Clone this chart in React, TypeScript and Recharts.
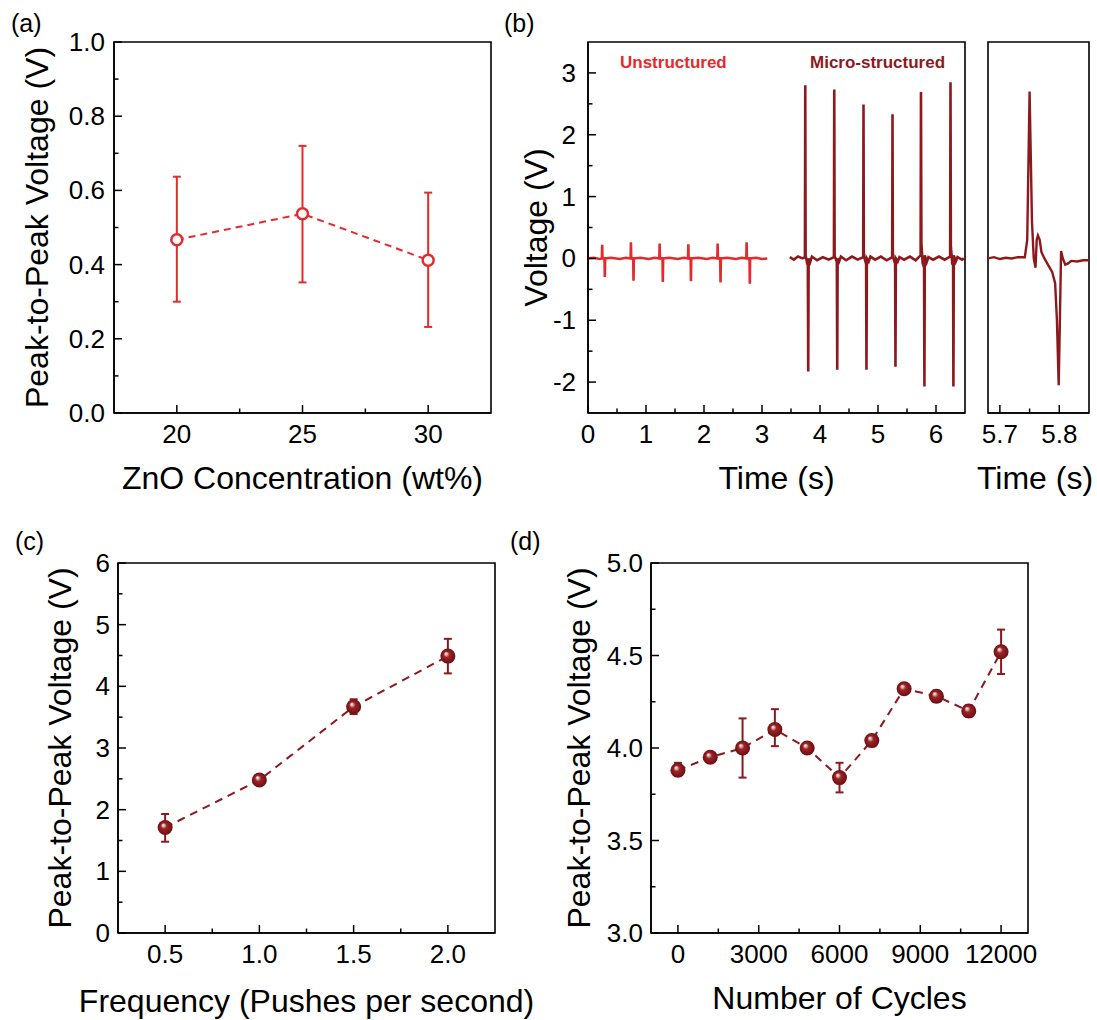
import { LineChart, Line, XAxis, YAxis, ErrorBar, ReferenceArea } from 'recharts';

const RED = '#e42a2d';
const DARK = '#8c1a1d';
const FONT = '"Liberation Sans", Arial, Helvetica, sans-serif';
const AXIS = { stroke: '#000', strokeWidth: 1.6 };

// (a) ZnO concentration
const znoConc = [20, 25, 30];
const znoVpp = [0.467, 0.537, 0.412];
const znoLow = [0.3, 0.352, 0.232];
const znoHigh = [0.637, 0.72, 0.594];

// (c) push frequency
const freq = [0.5, 1.0, 1.5, 2.0];
const freqVpp = [1.71, 2.48, 3.67, 4.49];
const freqLow = [1.48, 2.43, 3.55, 4.21];
const freqHigh = [1.93, 2.53, 3.79, 4.77];

// (d) cycling
const cycles = [0, 1200, 2400, 3600, 4800, 6000, 7200, 8400, 9600, 10800, 12000];
const cycleVpp = [3.88, 3.95, 4.0, 4.1, 4.0, 3.84, 4.04, 4.32, 4.28, 4.2, 4.52];
const cycleLow = [3.85, 3.93, 3.84, 4.01, 3.98, 3.76, 4.02, 4.3, 4.25, 4.17, 4.4];
const cycleHigh = [3.92, 3.97, 4.16, 4.21, 4.02, 3.92, 4.06, 4.34, 4.31, 4.23, 4.64];

// (b) voltage traces, [time s, voltage V]
const unstructuredTrace: [number, number][] = [
  [0.0, 0.0], [0.1, 0.01], [0.2, -0.01], [0.24, 0.0], [0.245, 0.22], [0.25, 0.0], [0.285, 0.0], [0.29, -0.3], [0.295, 0.0],
  [0.4, 0.01], [0.55, -0.01], [0.65, 0.01], [0.735, 0.0], [0.74, 0.26], [0.745, 0.0], [0.78, 0.0], [0.785, -0.36], [0.79, 0.0],
  [0.9, 0.01], [1.05, -0.01], [1.15, 0.01], [1.23, 0.0], [1.235, 0.24], [1.24, 0.0], [1.285, 0.0], [1.29, -0.38], [1.295, 0.0],
  [1.4, 0.01], [1.55, -0.01], [1.65, 0.01], [1.725, 0.0], [1.73, 0.23], [1.735, 0.0], [1.77, 0.0], [1.775, -0.37], [1.78, 0.0],
  [1.9, 0.01], [2.05, -0.01], [2.15, 0.01], [2.23, 0.0], [2.235, 0.24], [2.24, 0.0], [2.28, 0.0], [2.285, -0.39], [2.29, 0.0],
  [2.4, 0.01], [2.55, -0.01], [2.65, 0.01], [2.73, 0.0], [2.735, 0.26], [2.74, 0.0], [2.785, 0.0], [2.79, -0.41], [2.795, 0.0],
  [2.9, 0.01], [3.0, -0.01], [3.09, 0.0],
];

const microTrace: [number, number][] = [
  [3.48, 0.02], [3.55, -0.02], [3.62, 0.03], [3.7, 0.0], [3.74, 0.02], [3.746, 2.8], [3.752, 0.05], [3.77, -0.04], [3.79, 0.0],
  [3.797, -1.83], [3.804, 0.0], [3.83, -0.06], [3.86, 0.03], [3.95, -0.03], [4.05, 0.02], [4.15, -0.02],
  [4.24, 0.02], [4.246, 2.73], [4.252, 0.04], [4.28, -0.03], [4.29, 0.0], [4.297, -1.8], [4.304, 0.0], [4.33, -0.05], [4.36, 0.03],
  [4.45, -0.03], [4.55, 0.03], [4.65, -0.02],
  [4.745, 0.02], [4.75, 2.49], [4.756, 0.04], [4.78, -0.04], [4.795, 0.0], [4.801, -1.8], [4.808, 0.0], [4.84, -0.05], [4.87, 0.03],
  [4.95, -0.02], [5.05, 0.03], [5.15, -0.03],
  [5.245, 0.02], [5.25, 2.33], [5.256, 0.03], [5.28, -0.04], [5.295, 0.0], [5.301, -1.75], [5.308, 0.0], [5.34, -0.05], [5.37, 0.02],
  [5.45, -0.02], [5.55, 0.03], [5.65, -0.03],
  [5.735, 0.05], [5.741, 2.69], [5.748, 0.25], [5.77, -0.08], [5.795, -0.15], [5.8, -2.07], [5.807, 0.05], [5.84, -0.06], [5.87, 0.02],
  [5.95, -0.02], [6.05, 0.03], [6.15, -0.02],
  [6.244, 0.03], [6.25, 2.85], [6.256, 0.2], [6.28, -0.08], [6.295, -0.08], [6.3, -2.07], [6.307, 0.05], [6.34, -0.05], [6.37, 0.02],
  [6.45, -0.02], [6.48, 0.0],
];

const zoomTrace: [number, number][] = [
  [5.68, 0.0], [5.69, 0.02], [5.7, -0.01], [5.71, 0.01], [5.72, 0.0], [5.73, 0.02], [5.742, 0.02], [5.746, 0.3], [5.75, 2.7],
  [5.754, 0.6], [5.757, 0.0], [5.76, -0.15], [5.762, 0.3], [5.764, 0.37], [5.767, 0.3], [5.77, 0.1], [5.775, 0.0], [5.782, -0.12],
  [5.788, -0.22], [5.793, -0.4], [5.796, -1.0], [5.799, -2.05], [5.801, -1.0], [5.803, 0.12], [5.806, 0.0], [5.81, -0.1],
  [5.815, -0.08], [5.82, -0.04], [5.83, -0.05], [5.84, -0.03], [5.852, -0.03],
];

// ticks
const aXMajor = [20, 25, 30];
const aXMinor = [22.5, 27.5];
const aYMajor = [0, 0.2, 0.4, 0.6, 0.8, 1.0];
const aYMinor = [0.1, 0.3, 0.5, 0.7, 0.9];
const bXMajor = [0, 1, 2, 3, 4, 5, 6];
const bXMinor = [0.5, 1.5, 2.5, 3.5, 4.5, 5.5];
const bYMajor = [-2, -1, 0, 1, 2, 3];
const bYMinor = [-1.5, -0.5, 0.5, 1.5, 2.5];
const zXMajor = [5.7, 5.8];
const zXMinor = [5.75];
const cXMajor = [0.5, 1.0, 1.5, 2.0];
const cXMinor = [0.75, 1.25, 1.75];
const cYMajor = [0, 1, 2, 3, 4, 5, 6];
const cYMinor = [0.5, 1.5, 2.5, 3.5, 4.5, 5.5];
const dXMajor = [0, 3000, 6000, 9000, 12000];
const dXMinor = [1500, 4500, 7500, 10500];
const dYMajor = [3.0, 3.5, 4.0, 4.5, 5.0];
const dYMinor = [3.25, 3.75, 4.25, 4.75];

const buildRows = (xs: number[], v: number[], lo: number[], hi: number[]) =>
  xs.map((x, i) => ({ x, v: v[i], err: [v[i] - lo[i], hi[i] - v[i]] }));
const toPoints = (tr: [number, number][]) => tr.map(([t, v]) => ({ t, v }));

const znoRows = buildRows(znoConc, znoVpp, znoLow, znoHigh);
const freqRows = buildRows(freq, freqVpp, freqLow, freqHigh);
const cycleRows = buildRows(cycles, cycleVpp, cycleLow, cycleHigh);

const isIn = (arr: number[], v: number) => arr.some((m) => Math.abs(m - v) < 1e-9);

const yTick = (major: number[], fmt: ((v: number) => string) | null, gap: number) => (p: any) => {
  const { x, y, payload } = p;
  const big = isIn(major, payload.value);
  return (
    <g>
      <line x1={x} y1={y} x2={x + (big ? 8 : 4.5)} y2={y} stroke="#000" strokeWidth={1.5} />
      {fmt && big && (
        <text x={x - gap} y={y} textAnchor="end" dominantBaseline="central" fontSize={26} fontFamily={FONT} fill="#000">
          {fmt(payload.value)}
        </text>
      )}
    </g>
  );
};

const xTick = (major: number[], fmt: (v: number) => string) => (p: any) => {
  const { x, y, payload } = p;
  const big = isIn(major, payload.value);
  return (
    <g>
      <line x1={x} y1={y} x2={x} y2={y - (big ? 8 : 4.5)} stroke="#000" strokeWidth={1.5} />
      {big && (
        <text x={x} y={y + 21} textAnchor="middle" dominantBaseline="central" fontSize={26} fontFamily={FONT} fill="#000">
          {fmt(payload.value)}
        </text>
      )}
    </g>
  );
};

const yTitle = (text: string, cx: number) => (p: any) => {
  const vb = p.viewBox || { y: 0, height: 0 };
  const cy = vb.y + vb.height / 2;
  return (
    <text x={cx} y={cy} transform={`rotate(-90 ${cx} ${cy})`} textAnchor="middle" dominantBaseline="central" fontSize={32} fontFamily={FONT} fill="#000">
      {text}
    </text>
  );
};

const xTitle = (text: string, dy: number, cx?: number) => (p: any) => {
  const vb = p.viewBox || { x: 0, y: 0, width: 0 };
  const x = cx ?? vb.x + vb.width / 2;
  return (
    <text x={x} y={vb.y + dy} textAnchor="middle" dominantBaseline="central" fontSize={32} fontFamily={FONT} fill="#000">
      {text}
    </text>
  );
};

const OpenDot = (p: any) => (
  <circle key={`o${p.index}`} cx={p.cx} cy={p.cy} r={5.5} fill="#fff" stroke={RED} strokeWidth={2.5} />
);
const SphereDot = (p: any) => (
  <circle key={`s${p.index}`} cx={p.cx} cy={p.cy} r={7.5} fill="url(#sphereFill)" />
);

const fmt1 = (v: number) => v.toFixed(1);
const fmt0 = (v: number) => String(v);

const tickAxis = { tickLine: false, tickSize: 0, tickMargin: 0, interval: 0 as const, axisLine: AXIS, allowDataOverflow: true };

const PanelLabel = ({ text, left, top }: { text: string; left: number; top: number }) => (
  <div style={{ position: 'absolute', left, top, fontSize: 25, lineHeight: '28px', fontFamily: FONT, color: '#000' }}>{text}</div>
);

export default function App() {
  return (
    <div style={{ position: 'absolute', left: 0, top: 0, width: 1097, height: 1020, background: '#fff', overflow: 'hidden', fontFamily: FONT }}>
      <svg width={0} height={0} style={{ position: 'absolute' }}>
        <defs>
          <radialGradient id="sphereFill" cx="0.5" cy="0.5" r="0.5" fx="0.36" fy="0.32">
            <stop offset="0%" stopColor="#ffffff" />
            <stop offset="16%" stopColor="#e6b3b3" />
            <stop offset="40%" stopColor="#9c2326" />
            <stop offset="100%" stopColor="#6a1013" />
          </radialGradient>
        </defs>
      </svg>

      {/* (a) */}
      <div style={{ position: 'absolute', left: 0, top: 0 }}>
        <LineChart width={500} height={500} data={znoRows} margin={{ top: 42, right: 9, bottom: 7, left: 54 }}>
          <XAxis type="number" dataKey="x" domain={[17.5, 32.5]} ticks={[...aXMajor, ...aXMinor]} tick={xTick(aXMajor, fmt0)} height={80} {...tickAxis}
            label={{ content: xTitle('ZnO Concentration (wt%)', 65) }} />
          <YAxis type="number" domain={[0, 1]} ticks={[...aYMajor, ...aYMinor]} tick={yTick(aYMajor, fmt1, 9)} width={60} {...tickAxis}
            label={{ content: yTitle('Peak-to-Peak Voltage (V)', 37) }} />
          <ReferenceArea x1={17.5} x2={32.5} y1={0} y2={1} fill="none" fillOpacity={0} stroke="#000" strokeWidth={1.6} ifOverflow="visible" />
          <Line type="linear" dataKey="v" stroke={RED} strokeWidth={2} strokeDasharray="7 5" dot={OpenDot} activeDot={false} isAnimationActive={false}>
            <ErrorBar dataKey="err" direction="y" width={4} stroke={RED} strokeWidth={2} />
          </Line>
        </LineChart>
      </div>

      {/* (b) main */}
      <div style={{ position: 'absolute', left: 480, top: 0 }}>
        <LineChart width={500} height={500} margin={{ top: 42, right: 15, bottom: 7, left: 48 }}>
          <XAxis type="number" dataKey="t" domain={[0, 6.5]} ticks={[...bXMajor, ...bXMinor]} tick={xTick(bXMajor, fmt0)} height={80} {...tickAxis}
            label={{ content: xTitle('Time (s)', 65) }} />
          <YAxis type="number" dataKey="v" domain={[-2.5, 3.5]} ticks={[...bYMajor, ...bYMinor]} tick={yTick(bYMajor, fmt0, 12)} width={60} {...tickAxis}
            label={{ content: yTitle('Voltage (V)', 56) }} />
          <ReferenceArea x1={0} x2={6.5} y1={-2.5} y2={3.5} fill="none" fillOpacity={0} stroke="#000" strokeWidth={1.6} ifOverflow="visible" />
          <Line data={toPoints(unstructuredTrace)} type="linear" dataKey="v" stroke={RED} strokeWidth={2.6} dot={false} activeDot={false} isAnimationActive={false} />
          <Line data={toPoints(microTrace)} type="linear" dataKey="v" stroke={DARK} strokeWidth={2.6} dot={false} activeDot={false} isAnimationActive={false} />
        </LineChart>
      </div>
      <div style={{ position: 'absolute', left: 620, top: 53, fontSize: 17, lineHeight: '20px', fontWeight: 'bold', color: RED }}>Unstructured</div>
      <div style={{ position: 'absolute', left: 810, top: 53, fontSize: 17, lineHeight: '20px', fontWeight: 'bold', color: DARK }}>Micro-structured</div>

      {/* (b) zoom */}
      <div style={{ position: 'absolute', left: 960, top: 0 }}>
        <LineChart width={137} height={500} margin={{ top: 42, right: 8, bottom: 7, left: 28 }}>
          <XAxis type="number" dataKey="t" domain={[5.68, 5.85]} ticks={[...zXMajor, ...zXMinor]} tick={xTick(zXMajor, fmt1)} height={80} {...tickAxis}
            label={{ content: xTitle('Time (s)', 65, 75) }} />
          <YAxis type="number" dataKey="v" domain={[-2.5, 3.5]} ticks={[...bYMajor, ...bYMinor]} tick={yTick(bYMajor, null, 0)} width={0} {...tickAxis} />
          <ReferenceArea x1={5.68} x2={5.85} y1={-2.5} y2={3.5} fill="none" fillOpacity={0} stroke="#000" strokeWidth={1.6} ifOverflow="visible" />
          <Line data={toPoints(zoomTrace)} type="linear" dataKey="v" stroke={DARK} strokeWidth={2.4} dot={false} activeDot={false} isAnimationActive={false} />
        </LineChart>
      </div>

      {/* (c) */}
      <div style={{ position: 'absolute', left: 0, top: 520 }}>
        <LineChart width={540} height={500} data={freqRows} margin={{ top: 43, right: 45, bottom: 7, left: 58 }}>
          <XAxis type="number" dataKey="x" domain={[0.25, 2.25]} ticks={[...cXMajor, ...cXMinor]} tick={xTick(cXMajor, fmt1)} height={80} {...tickAxis}
            label={{ content: xTitle('Frequency (Pushes per second)', 68) }} />
          <YAxis type="number" domain={[0, 6]} ticks={[...cYMajor, ...cYMinor]} tick={yTick(cYMajor, fmt0, 8)} width={60} {...tickAxis}
            label={{ content: yTitle('Peak-to-Peak Voltage (V)', 60) }} />
          <ReferenceArea x1={0.25} x2={2.25} y1={0} y2={6} fill="none" fillOpacity={0} stroke="#000" strokeWidth={1.6} ifOverflow="visible" />
          <Line type="linear" dataKey="v" stroke={DARK} strokeWidth={2} strokeDasharray="8 6" dot={SphereDot} activeDot={false} isAnimationActive={false}>
            <ErrorBar dataKey="err" direction="y" width={4} stroke={DARK} strokeWidth={2} />
          </Line>
        </LineChart>
      </div>

      {/* (d) */}
      <div style={{ position: 'absolute', left: 540, top: 520 }}>
        <LineChart width={557} height={500} data={cycleRows} margin={{ top: 43, right: 69, bottom: 7, left: 51 }}>
          <XAxis type="number" dataKey="x" domain={[-1000, 13000]} ticks={[...dXMajor, ...dXMinor]} tick={xTick(dXMajor, fmt0)} height={80} {...tickAxis}
            label={{ content: xTitle('Number of Cycles', 65) }} />
          <YAxis type="number" domain={[3, 5]} ticks={[...dYMajor, ...dYMinor]} tick={yTick(dYMajor, fmt1, 8)} width={60} {...tickAxis}
            label={{ content: yTitle('Peak-to-Peak Voltage (V)', 39) }} />
          <ReferenceArea x1={-1000} x2={13000} y1={3} y2={5} fill="none" fillOpacity={0} stroke="#000" strokeWidth={1.6} ifOverflow="visible" />
          <Line type="linear" dataKey="v" stroke={DARK} strokeWidth={2} strokeDasharray="8 6" dot={SphereDot} activeDot={false} isAnimationActive={false}>
            <ErrorBar dataKey="err" direction="y" width={4} stroke={DARK} strokeWidth={2} />
          </Line>
        </LineChart>
      </div>

      <PanelLabel text="(a)" left={11} top={9} />
      <PanelLabel text="(b)" left={504} top={9} />
      <PanelLabel text="(c)" left={15} top={527} />
      <PanelLabel text="(d)" left={510} top={527} />
    </div>
  );
}
